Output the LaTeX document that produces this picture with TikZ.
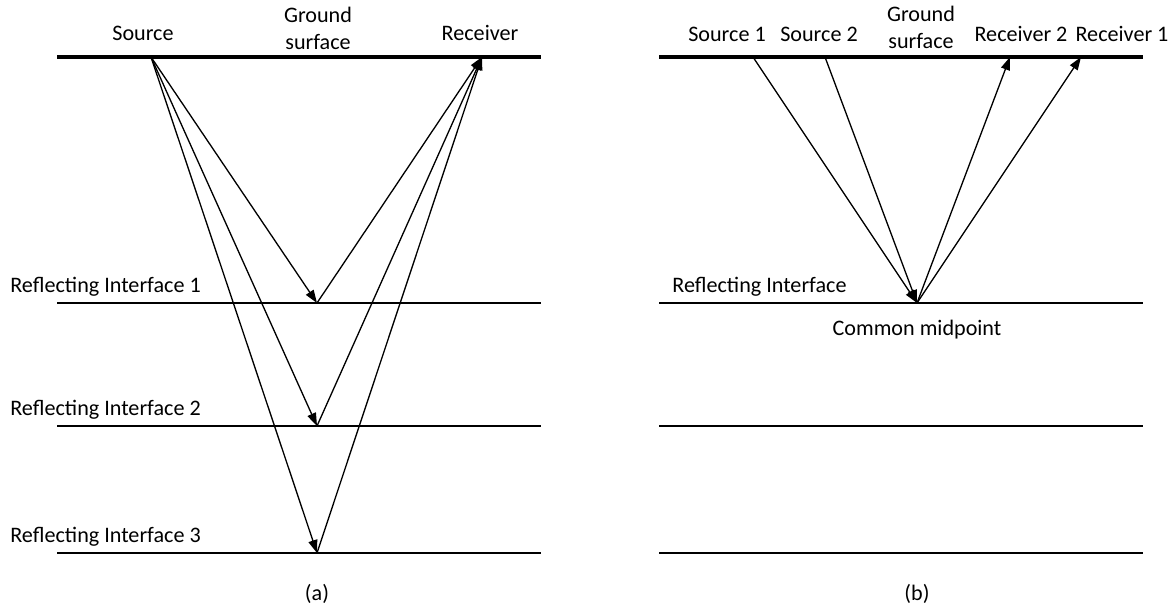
\documentclass[tikz,border=0pt]{standalone}
\usepackage{fontspec}
\setmainfont{Carlito}
\usetikzlibrary{arrows.meta, positioning}

\begin{document}
\begin{tikzpicture}[
    x=0.02cm, y=-0.02cm,
    surf/.style={line width=2.6pt},
    layer/.style={line width=1.5pt},
    ray/.style={-{Triangle[length=0.26cm, width=0.18cm]}, line width=0.75pt},
    lbl/.style={font=\fontsize{12.6}{15.5}\selectfont, inner sep=0pt, anchor=base},
]
    \useasboundingbox (0,0) rectangle (1176,611);
    % (a) one source, one receiver, three interfaces
    \draw[surf] (57,57) -- (541,57);
    \coordinate (srcA) at (151,57);
    \coordinate (rcvA) at (482,57);
    \foreach \i/\y in {1/303,2/426,3/553} {
        \draw[layer] (57,\y) -- (541,\y);
        \coordinate (refA\i) at (317,\y);
        \draw[ray] (srcA) -- (refA\i);
        \draw[ray] (refA\i) -- (rcvA);
        \node[lbl, anchor=base west] (layA\i) at (10,\y-11) {Reflecting Interface \i};
    }
    \node[lbl] (srcAlbl) at (143,41) {Source};
    \node[lbl] (rcvAlbl) at (480,41) {Receiver};
    \node[lbl, align=center] (gndA) at (318,50) {Ground\\surface};
    \node[lbl] (capA) at (317,600) {(a)};
    % (b) common midpoint gather
    \draw[surf] (659,57) -- (1143,57);
    \foreach \y in {303,426,553} \draw[layer] (659,\y) -- (1143,\y);
    \coordinate (cmp) at (917,303);
    \coordinate (srcB1) at (753,57);
    \coordinate (srcB2) at (825,57);
    \coordinate (rcvB2) at (1010,57);
    \coordinate (rcvB1) at (1081,57);
    \draw[ray] (srcB1) -- (cmp);
    \draw[ray] (srcB2) -- (cmp);
    \draw[ray] (cmp) -- (rcvB2);
    \draw[ray] (cmp) -- (rcvB1);
    \node[lbl] (srcB1lbl) at (727,42) {Source 1};
    \node[lbl] (srcB2lbl) at (819,42) {Source 2};
    \node[lbl] (rcvB2lbl) at (1021,42) {Receiver 2};
    \node[lbl] (rcvB1lbl) at (1122,42) {Receiver 1};
    \node[lbl, align=center] (gndB) at (921,49) {Ground\\surface};
    \node[lbl, anchor=base west] (layB) at (672,292) {Reflecting Interface};
    \node[lbl] (cmpLbl) at (917,335) {Common midpoint};
    \node[lbl] (capB) at (917,600) {(b)};
\end{tikzpicture}
\end{document}
